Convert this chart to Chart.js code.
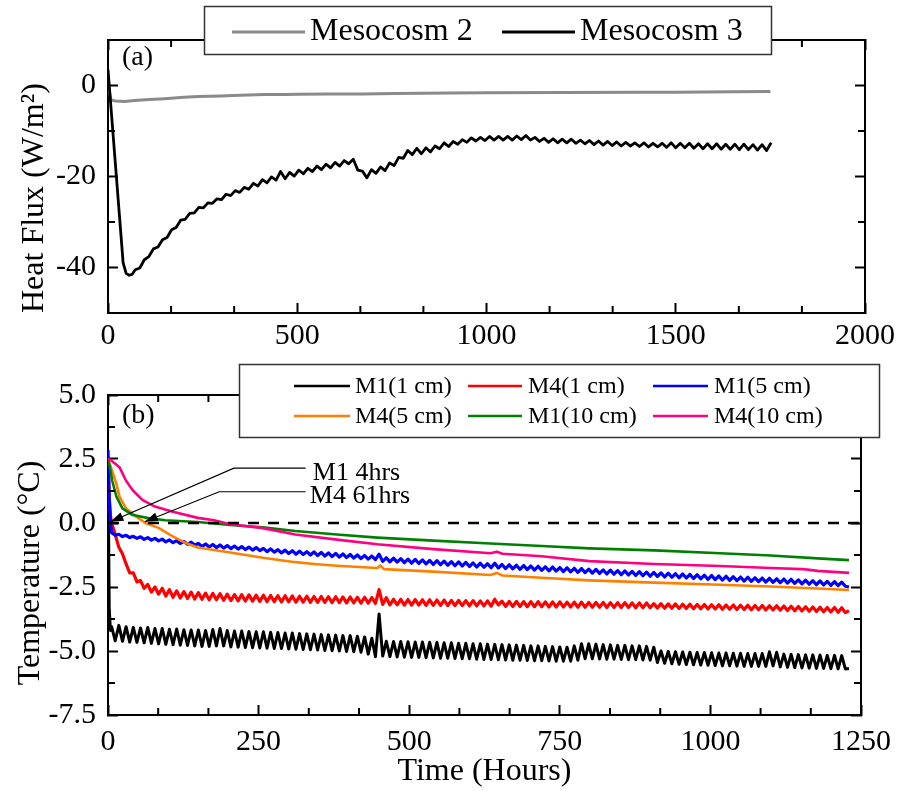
<!DOCTYPE html>
<html>
<head>
<meta charset="utf-8">
<script src="https://cdn.jsdelivr.net/npm/chart.js"></script>
<style>
  html, body { margin: 0; padding: 0; background: #fff; }
  #wrap { position: relative; width: 910px; height: 791px; }
  #fluxChart { position: absolute; left: 0; top: 0; }
  #tempChart { position: absolute; left: 0; top: 355px; }
</style>
</head>
<body>
<div id="wrap">
  <canvas id="fluxChart" width="910" height="355"></canvas>
  <canvas id="tempChart" width="910" height="436"></canvas>
</div>
<script>
const SERIF = "'Liberation Serif', 'Times New Roman', serif";

// ---------- (a) heat flux ----------
const fluxTicksX = [0, 500, 1000, 1500, 2000];
const fluxTicksY = [-40, -20, 0];
const fluxMinorX = [166.7, 333.3, 666.7, 833.3, 1166.7, 1333.3, 1666.7, 1833.3];
const fluxMinorY = [-30, -10];

const meso2Hours = [0, 8, 20, 44, 70, 109, 150, 200, 239, 300, 330, 413, 470, 500, 584, 670, 758, 900, 1000, 1200, 1400, 1500, 1650, 1750];
const meso2Flux = [0, -3.2, -3.4, -3.5, -3.3, -3.1, -2.9, -2.6, -2.4, -2.3, -2.2, -2.0, -2.0, -1.95, -1.85, -1.85, -1.75, -1.65, -1.6, -1.55, -1.5, -1.5, -1.4, -1.3];

const meso3Hours = [0, 40, 48, 56, 64,
  72, 84, 96, 108, 120, 132, 144, 156, 168, 180, 192, 204, 216, 228, 240, 252, 264, 276, 288, 300,
  312, 324, 336, 348, 360, 372, 384, 396, 408, 420, 432, 444, 456, 468, 480, 492, 504, 516, 528, 540,
  552, 564, 576, 588, 600, 612, 624, 636, 648, 660, 672, 684, 696, 708, 720, 732, 744, 756, 768, 780,
  792, 804, 816, 828, 840, 852, 864, 876, 888, 900, 912, 924, 936, 948, 960, 972, 984, 996, 1008, 1020,
  1032, 1044, 1056, 1068, 1080, 1092, 1104, 1116, 1128, 1140, 1152, 1164, 1176, 1188, 1200, 1212, 1224, 1236, 1248, 1260,
  1272, 1284, 1296, 1308, 1320, 1332, 1344, 1356, 1368, 1380, 1392, 1404, 1416, 1428, 1440, 1452, 1464, 1476, 1488, 1500,
  1512, 1524, 1536, 1548, 1560, 1572, 1584, 1596, 1608, 1620, 1632, 1644, 1656, 1668, 1680, 1692, 1704, 1716, 1728, 1740, 1752];
const meso3Flux = [3.5, -39.0, -41.3, -41.7, -41.5,
  -40.5, -40.1, -38.3, -37.6, -35.9, -35.5, -33.9, -33.4, -31.7, -31.2,
  -29.6, -29.4, -28.1, -28.0, -26.8, -26.9, -25.8, -25.9, -24.9, -25.1,
  -23.9, -24.2, -23.1, -23.5, -22.4, -22.8, -21.5, -22.1, -20.7, -21.4,
  -20.1, -20.8, -18.9, -20.5, -19.1, -19.9, -18.6, -19.4, -18.2, -18.9,
  -17.7, -18.5, -17.3, -18.1, -16.9, -17.7, -16.5, -17.2, -16.2, -18.6,
  -18.8, -20.3, -18.5, -19.3, -17.9, -18.7, -17.0, -17.6, -15.8, -16.0,
  -14.3, -15.2, -13.8, -15.0, -13.7, -14.6, -13.3, -13.9, -12.6, -13.4,
  -12.3, -12.9, -11.9, -12.5, -11.5, -12.2, -11.4, -12.1, -11.2, -12.0,
  -11.2, -12.0, -11.2, -12.0, -11.1, -11.9, -11.0, -12.0, -11.4, -12.3,
  -11.6, -12.5, -11.7, -12.6, -11.8, -12.6, -11.8, -12.7, -12.0, -12.8,
  -12.1, -13.0, -12.2, -13.1, -12.3, -13.2, -12.4, -13.3, -12.5, -13.3,
  -12.6, -13.4, -12.6, -13.5, -12.7, -13.5, -12.7, -13.6, -12.6, -13.7,
  -12.7, -13.7, -12.7, -13.8, -12.8, -13.9, -12.8, -13.9, -12.8, -14.0,
  -12.9, -14.0, -12.9, -14.1, -12.9, -14.1, -13.0, -14.2, -13.0, -14.3,
  -12.6];

// ---------- (b) temperature ----------
const tempTicksX = [0, 250, 500, 750, 1000, 1250];
const tempTicksY = [-7.5, -5, -2.5, 0, 2.5, 5];
const tempMinorX = [83.3, 166.7, 333.3, 416.7, 583.3, 666.7, 833.3, 916.7, 1083.3, 1166.7];
const tempMinorY = [3.75, 1.25, -1.25, -3.75, -6.25];

// sampling times of the logged (oscillating) series
const logHours = [0, 2, 4,
  6, 12, 18, 24, 30, 36, 42, 48, 54, 60, 66, 72, 78, 84, 90, 96, 102, 108, 114, 120,
  126, 132, 138, 144, 150, 156, 162, 168, 174, 180, 186, 192, 198, 204, 210, 216, 222, 228, 234, 240,
  246, 252, 258, 264, 270, 276, 282, 288, 294, 300, 306, 312, 318, 324, 330, 336, 342, 348, 354, 360,
  366, 372, 378, 384, 390, 396, 402, 408, 414, 420, 426, 432, 438, 444, 450, 456, 462, 468, 474, 480,
  486, 492, 498, 504, 510, 516, 522, 528, 534, 540, 546, 552, 558, 564, 570, 576, 582, 588, 594, 600,
  606, 612, 618, 624, 630, 636, 642, 648, 654, 660, 666, 672, 678, 684, 690, 696, 702, 708, 714, 720,
  726, 732, 738, 744, 750, 756, 762, 768, 774, 780, 786, 792, 798, 804, 810, 816, 822, 828, 834, 840,
  846, 852, 858, 864, 870, 876, 882, 888, 894, 900, 906, 912, 918, 924, 930, 936, 942, 948, 954, 960,
  966, 972, 978, 984, 990, 996, 1002, 1008, 1014, 1020, 1026, 1032, 1038, 1044, 1050, 1056, 1062, 1068, 1074, 1080,
  1086, 1092, 1098, 1104, 1110, 1116, 1122, 1128, 1134, 1140, 1146, 1152, 1158, 1164, 1170, 1176, 1182, 1188, 1194, 1200,
  1206, 1212, 1218, 1224, 1230];

const m1cm1 = [2.6, -3.3, -4.2,
  -4.05, -4.6, -4.0, -4.62, -4.05, -4.65, -4.08, -4.66, -4.1, -4.68,
  -4.08, -4.7, -4.12, -4.72, -4.12, -4.74, -4.15, -4.75, -4.14, -4.77,
  -4.17, -4.78, -4.18, -4.8, -4.18, -4.82, -4.2, -4.82, -4.16, -4.8,
  -4.12, -4.8, -4.2, -4.84, -4.22, -4.85, -4.22, -4.86, -4.24, -4.87,
  -4.25, -4.88, -4.25, -4.89, -4.27, -4.9, -4.28, -4.9, -4.3, -4.92,
  -4.3, -4.93, -4.32, -4.94, -4.33, -4.95, -4.34, -4.96, -4.36, -4.98,
  -4.37, -4.99, -4.38, -5.0, -4.4, -5.02, -4.4, -5.03, -4.42, -5.05,
  -4.45, -5.12, -4.5, -5.22, -3.55, -5.2, -4.62, -5.22, -4.63, -5.23,
  -4.63, -5.24, -4.64, -5.25, -4.65, -5.25, -4.65, -5.26, -4.66, -5.27,
  -4.66, -5.28, -4.68, -5.28, -4.68, -5.29, -4.7, -5.3, -4.7, -5.3,
  -4.72, -5.32, -4.72, -5.33, -4.73, -5.33, -4.74, -5.34, -4.75, -5.35,
  -4.76, -5.36, -4.77, -5.36, -4.78, -5.37, -4.8, -5.38, -4.8, -5.38,
  -4.82, -5.39, -4.83, -5.4, -4.84, -5.4, -4.85, -5.4, -4.8, -5.36,
  -4.72, -5.3, -4.72, -5.3, -4.73, -5.31, -4.75, -5.32, -4.76, -5.32,
  -4.78, -5.33, -4.78, -5.34, -4.8, -5.34, -4.8, -5.35, -4.82, -5.36,
  -4.85, -5.45, -5.0, -5.48, -5.02, -5.5, -5.03, -5.52, -5.04, -5.53,
  -5.05, -5.54, -5.06, -5.55, -5.06, -5.56, -5.07, -5.57, -5.08, -5.58,
  -5.08, -5.58, -5.09, -5.59, -5.09, -5.6, -5.1, -5.6, -5.1, -5.6,
  -5.1, -5.6, -5.03, -5.58, -5.05, -5.62, -5.12, -5.64, -5.13, -5.65,
  -5.14, -5.66, -5.15, -5.67, -5.15, -5.68, -5.16, -5.68, -5.17, -5.69,
  -5.17, -5.7, -5.18, -5.7, -5.68];

const m4cm1 = [2.5, 1.0, 0.3,
  0.0, -0.45, -0.95, -1.2, -1.6, -1.95, -1.95, -2.3, -2.25, -2.55,
  -2.4, -2.7, -2.5, -2.78, -2.55, -2.85, -2.6, -2.9, -2.65, -2.93,
  -2.68, -2.95, -2.7, -2.97, -2.72, -2.98, -2.74, -3.0, -2.75, -3.0,
  -2.76, -3.02, -2.78, -3.03, -2.8, -3.04, -2.8, -3.05, -2.81, -3.05,
  -2.82, -3.06, -2.82, -3.07, -2.83, -3.07, -2.84, -3.08, -2.84, -3.08,
  -2.85, -3.09, -2.86, -3.09, -2.86, -3.1, -2.87, -3.1, -2.87, -3.1,
  -2.88, -3.11, -2.88, -3.11, -2.89, -3.12, -2.89, -3.12, -2.9, -3.13,
  -2.9, -3.13, -2.91, -3.14, -2.6, -3.18, -2.92, -3.2, -2.98, -3.2,
  -2.98, -3.21, -2.99, -3.21, -2.99, -3.21, -3.0, -3.22, -3.0, -3.22,
  -3.01, -3.22, -3.01, -3.23, -3.02, -3.23, -3.02, -3.23, -3.03, -3.24,
  -3.03, -3.24, -3.04, -3.24, -3.04, -3.25, -2.98, -3.2, -3.05, -3.26,
  -3.06, -3.26, -3.06, -3.26, -3.07, -3.27, -3.07, -3.27, -3.07, -3.27,
  -3.08, -3.28, -3.08, -3.28, -3.08, -3.28, -3.09, -3.28, -3.09, -3.29,
  -3.09, -3.29, -3.1, -3.29, -3.1, -3.29, -3.1, -3.3, -3.11, -3.3,
  -3.11, -3.3, -3.11, -3.3, -3.12, -3.31, -3.12, -3.31, -3.12, -3.31,
  -3.15, -3.32, -3.15, -3.33, -3.16, -3.33, -3.16, -3.34, -3.17, -3.34,
  -3.17, -3.35, -3.18, -3.35, -3.18, -3.36, -3.19, -3.36, -3.19, -3.37,
  -3.2, -3.37, -3.2, -3.38, -3.21, -3.38, -3.21, -3.39, -3.22, -3.39,
  -3.22, -3.4, -3.23, -3.4, -3.23, -3.41, -3.24, -3.42, -3.25, -3.43,
  -3.26, -3.44, -3.27, -3.45, -3.28, -3.46, -3.29, -3.47, -3.3, -3.48,
  -3.3, -3.49, -3.31, -3.5, -3.42];

const m1cm5 = [2.85, 1.0, 0.0,
  -0.38, -0.48, -0.44, -0.53, -0.48, -0.57, -0.52, -0.6, -0.54, -0.64,
  -0.57, -0.67, -0.6, -0.7, -0.63, -0.74, -0.66, -0.77, -0.69, -0.8,
  -0.72, -0.83, -0.75, -0.87, -0.8, -0.92, -0.82, -0.94, -0.84, -0.96,
  -0.86, -0.98, -0.88, -1.0, -0.9, -1.02, -0.92, -1.04, -0.94, -1.06,
  -0.96, -1.08, -0.99, -1.12, -1.01, -1.14, -1.04, -1.17, -1.06, -1.19,
  -1.08, -1.22, -1.1, -1.23, -1.12, -1.25, -1.13, -1.27, -1.15, -1.29,
  -1.17, -1.31, -1.19, -1.33, -1.21, -1.35, -1.23, -1.37, -1.25, -1.39,
  -1.27, -1.41, -1.29, -1.43, -1.22, -1.5, -1.36, -1.52, -1.37, -1.53,
  -1.39, -1.55, -1.41, -1.57, -1.42, -1.58, -1.44, -1.6, -1.46, -1.62,
  -1.47, -1.63, -1.49, -1.65, -1.51, -1.67, -1.52, -1.68, -1.54, -1.7,
  -1.56, -1.72, -1.57, -1.73, -1.59, -1.75, -1.57, -1.76, -1.62, -1.78,
  -1.63, -1.79, -1.65, -1.81, -1.66, -1.82, -1.68, -1.84, -1.69, -1.85,
  -1.71, -1.87, -1.72, -1.88, -1.74, -1.9, -1.75, -1.91, -1.77, -1.93,
  -1.78, -1.94, -1.8, -1.96, -1.81, -1.97, -1.83, -1.99, -1.84, -2.0,
  -1.86, -2.02, -1.87, -2.03, -1.89, -2.05, -1.9, -2.06, -1.92, -2.08,
  -1.93, -2.09, -1.95, -2.11, -1.96, -2.12, -1.98, -2.14, -1.99, -2.15,
  -2.01, -2.17, -2.02, -2.18, -2.04, -2.2, -2.05, -2.21, -2.07, -2.23,
  -2.08, -2.24, -2.1, -2.25, -2.11, -2.27, -2.12, -2.28, -2.14, -2.29,
  -2.15, -2.31, -2.16, -2.32, -2.18, -2.33, -2.19, -2.35, -2.2, -2.36,
  -2.22, -2.38, -2.23, -2.39, -2.25, -2.41, -2.26, -2.42, -2.28, -2.44,
  -2.29, -2.45, -2.31, -2.47, -2.5];

// smoother probes, read at fewer times
const m1cm10Hours = [0, 3, 7, 14, 24, 41, 67, 95, 149, 203, 257, 311, 380, 447, 540, 635, 720, 799, 907, 1016, 1100, 1178, 1230];
const m1cm10 = [2.5, 2.2, 1.65, 1.03, 0.57, 0.31, 0.19, 0.11, 0.04, -0.08, -0.17, -0.31, -0.45, -0.57, -0.69, -0.8, -0.9, -0.99, -1.07, -1.18, -1.27, -1.38, -1.45];

const m4cm10Hours = [0, 5, 10, 19, 30, 41, 57, 78, 106, 149, 176, 203, 257, 311, 380, 447, 540, 635, 645, 655, 720, 799, 907, 1016, 1100, 1152, 1165, 1178, 1230];
const m4cm10 = [2.5, 2.45, 2.35, 2.18, 1.65, 1.28, 0.9, 0.64, 0.45, 0.2, 0.11, -0.05, -0.2, -0.45, -0.65, -0.83, -1.02, -1.18, -1.12, -1.2, -1.3, -1.49, -1.6, -1.68, -1.76, -1.8, -1.83, -1.87, -1.95];

const m4cm5Hours = [0, 7, 14, 19, 30, 46, 62, 84, 106, 127, 149, 203, 257, 311, 342, 380, 447, 452, 458, 540, 635, 645, 655, 720, 799, 907, 1016, 1100, 1178, 1230];
const m4cm5 = [2.5, 2.03, 1.53, 1.03, 0.57, 0.27, 0.0, -0.19, -0.5, -0.76, -0.96, -1.15, -1.36, -1.53, -1.6, -1.67, -1.76, -1.66, -1.8, -1.9, -2.03, -1.95, -2.05, -2.14, -2.24, -2.33, -2.41, -2.48, -2.56, -2.62];

const zeroHours = [0, 1250];
const zeroTemp = [0, 0];

const legendOrderB = ['M1(1 cm)', 'M4(1 cm)', 'M1(5 cm)', 'M4(5 cm)', 'M1(10 cm)', 'M4(10 cm)'];

function pairs(xs, ys) {
    return xs.map((x, i) => ({ x: x, y: ys[i] }));
}

function line(label, xs, ys, color, width, order) {
    return {
        label: label,
        data: pairs(xs, ys),
        borderColor: color,
        backgroundColor: color,
        borderWidth: width,
        borderJoinStyle: 'round',
        pointRadius: 0,
        tension: 0,
        fill: false,
        order: order
    };
}

// one frame axis; labels only on bottom/left
function makeAxis(position, min, max, majors, size, showLabels, pad, fmt) {
    const horizontal = position === 'top' || position === 'bottom';
    return {
        type: 'linear',
        position: position,
        min: min,
        max: max,
        afterBuildTicks: s => { s.ticks = majors.map(v => ({ value: v })); },
        afterFit: s => { if (horizontal) s.height = size; else s.width = size; },
        border: { display: true, color: '#000', width: 2 },
        grid: { display: true, drawOnChartArea: false, drawTicks: true, tickLength: -10, tickWidth: 2, color: '#000' },
        ticks: {
            display: showLabels,
            autoSkip: false,
            maxRotation: 0,
            padding: pad,
            color: '#000',
            font: { family: SERIF, size: 30 },
            callback: fmt
        }
    };
}

// short inside ticks between the labelled ones, on all four sides
const minorTicks = {
    id: 'minorTicks',
    afterDraw(chart, args, opts) {
        const { ctx, chartArea: a, scales } = chart;
        ctx.save();
        ctx.strokeStyle = '#000';
        ctx.lineWidth = 2;
        ctx.beginPath();
        opts.minorX.forEach(v => {
            const px = scales.x.getPixelForValue(v);
            ctx.moveTo(px, a.bottom); ctx.lineTo(px, a.bottom - 7);
            ctx.moveTo(px, a.top); ctx.lineTo(px, a.top + 7);
        });
        opts.minorY.forEach(v => {
            const py = scales.y.getPixelForValue(v);
            ctx.moveTo(a.left, py); ctx.lineTo(a.left + 7, py);
            ctx.moveTo(a.right, py); ctx.lineTo(a.right - 7, py);
        });
        ctx.stroke();
        ctx.restore();
    }
};

function verticalTitle(ctx, text, x, y, size) {
    ctx.save();
    ctx.translate(x, y);
    ctx.rotate(-Math.PI / 2);
    ctx.font = size + 'px ' + SERIF;
    ctx.fillStyle = '#000';
    ctx.textAlign = 'center';
    ctx.textBaseline = 'alphabetic';
    ctx.fillText(text, 0, 0);
    ctx.restore();
}

const fluxDecor = {
    id: 'fluxDecor',
    afterDraw(chart) {
        const ctx = chart.ctx;
        const ds = chart.data.datasets;
        ctx.save();
        // legend box sits over the top frame
        ctx.fillStyle = '#fff';
        ctx.fillRect(204, 6, 568, 49);
        ctx.strokeStyle = '#333';
        ctx.lineWidth = 1.5;
        ctx.strokeRect(204.5, 6.5, 567, 48);
        const items = [[ds[0], 232, 305, 310], [ds[1], 502, 575, 580]];
        ctx.font = '32px ' + SERIF;
        ctx.textBaseline = 'middle';
        ctx.textAlign = 'left';
        items.forEach(it => {
            ctx.strokeStyle = it[0].borderColor;
            ctx.lineWidth = 3;
            ctx.beginPath(); ctx.moveTo(it[1], 32); ctx.lineTo(it[2], 32); ctx.stroke();
            ctx.fillStyle = '#000';
            ctx.fillText(it[0].label, it[3], 32);
        });
        ctx.font = '28px ' + SERIF;
        ctx.fillText('(a)', 122, 58);
        ctx.restore();
        verticalTitle(ctx, 'Heat Flux (W/m\u00B2)', 43, 198, 32);
    }
};

const tempDecor = {
    id: 'tempDecor',
    afterDraw(chart) {
        const { ctx, scales } = chart;
        const px = v => scales.x.getPixelForValue(v);
        const py = v => scales.y.getPixelForValue(v);
        ctx.save();
        // legend
        ctx.fillStyle = '#fff';
        ctx.fillRect(239, 9, 641, 74);
        ctx.strokeStyle = '#333';
        ctx.lineWidth = 1.5;
        ctx.strokeRect(239.5, 9.5, 640, 73);
        const cols = [[294, 350, 355], [468, 522, 528], [653, 708, 714]];
        const rows = [31, 61];
        ctx.font = '24px ' + SERIF;
        ctx.textBaseline = 'middle';
        ctx.textAlign = 'left';
        legendOrderB.forEach((label, i) => {
            const ds = chart.data.datasets.find(d => d.label === label);
            const c = cols[i % 3];
            const yy = rows[Math.floor(i / 3)];
            ctx.strokeStyle = ds.borderColor;
            ctx.lineWidth = 2.5;
            ctx.beginPath(); ctx.moveTo(c[0], yy); ctx.lineTo(c[1], yy); ctx.stroke();
            ctx.fillStyle = '#000';
            ctx.fillText(label, c[2], yy + 1);
        });

        ctx.font = '28px ' + SERIF;
        ctx.fillText('(b)', 122, 61);

        // zero-crossing call-outs
        const callouts = [
            { text: 'M1 4hrs', at: [340, 1.95], path: [[328, 2.14], [209, 2.14], [4, 0.05]] },
            { text: 'M4 61hrs', at: [335, 1.03], path: [[328, 1.22], [184.5, 1.22], [61, 0.05]] }
        ];
        callouts.forEach(c => {
            const pts = c.path.map(p => [px(p[0]), py(p[1])]);
            ctx.strokeStyle = '#000';
            ctx.lineWidth = 1.2;
            ctx.beginPath();
            ctx.moveTo(pts[0][0], pts[0][1]);
            pts.slice(1).forEach(p => ctx.lineTo(p[0], p[1]));
            ctx.stroke();
            const tip = pts[pts.length - 1], from = pts[pts.length - 2];
            const ang = Math.atan2(tip[1] - from[1], tip[0] - from[0]);
            const len = 13, half = 4.5;
            ctx.fillStyle = '#000';
            ctx.beginPath();
            ctx.moveTo(tip[0], tip[1]);
            ctx.lineTo(tip[0] - len * Math.cos(ang) + half * Math.sin(ang), tip[1] - len * Math.sin(ang) - half * Math.cos(ang));
            ctx.lineTo(tip[0] - len * Math.cos(ang) - half * Math.sin(ang), tip[1] - len * Math.sin(ang) + half * Math.cos(ang));
            ctx.closePath();
            ctx.fill();
            ctx.font = '26px ' + SERIF;
            ctx.textBaseline = 'middle';
            ctx.fillText(c.text, px(c.at[0]), py(c.at[1]));
        });
        ctx.restore();
        verticalTitle(ctx, 'Temperature (\u00B0C)', 39, 218, 32);
    }
};

const intLabel = v => String(v);

new Chart(document.getElementById('fluxChart'), {
    type: 'line',
    data: {
        datasets: [
            line('Mesocosm 2', meso2Hours, meso2Flux, '#8a8a8a', 3, 1),
            line('Mesocosm 3', meso3Hours, meso3Flux, '#000000', 2.8, 0)
        ]
    },
    options: {
        responsive: false,
        animation: false,
        devicePixelRatio: 1,
        events: [],
        layout: { padding: { left: 0, right: 32, top: 38, bottom: 0 } },
        plugins: {
            legend: { display: false },
            tooltip: { enabled: false },
            minorTicks: { minorX: fluxMinorX, minorY: fluxMinorY }
        },
        scales: {
            x: makeAxis('bottom', 0, 2000, fluxTicksX, 42, true, 15, intLabel),
            y: makeAxis('left', -50, 10, fluxTicksY, 108, true, 22, intLabel),
            xTop: makeAxis('top', 0, 2000, fluxTicksX, 0, false, 0, intLabel),
            yRight: makeAxis('right', -50, 10, fluxTicksY, 0, false, 0, intLabel)
        }
    },
    plugins: [minorTicks, fluxDecor]
});

const tempX = makeAxis('bottom', 0, 1250, tempTicksX, 76, true, 19, intLabel);
tempX.title = { display: true, text: 'Time (Hours)', color: '#000', font: { family: SERIF, size: 32 }, padding: { top: 0, bottom: 0 } };

new Chart(document.getElementById('tempChart'), {
    type: 'line',
    data: {
        datasets: [
            line('zero', zeroHours, zeroTemp, '#000000', 2.5, 0),
            line('M4(10 cm)', m4cm10Hours, m4cm10, '#ff0080', 2.6, 1),
            line('M1(10 cm)', m1cm10Hours, m1cm10, '#008000', 2.6, 2),
            line('M4(5 cm)', m4cm5Hours, m4cm5, '#ff8000', 2.6, 3),
            line('M1(5 cm)', logHours, m1cm5, '#0000ff', 3.2, 4),
            line('M4(1 cm)', logHours, m4cm1, '#ff0000', 3.2, 5),
            line('M1(1 cm)', logHours, m1cm1, '#000000', 3, 6)
        ]
    },
    options: {
        responsive: false,
        animation: false,
        devicePixelRatio: 1,
        events: [],
        layout: { padding: { left: 0, right: 32, top: 33, bottom: 0 } },
        plugins: {
            legend: { display: false },
            tooltip: { enabled: false },
            minorTicks: { minorX: tempMinorX, minorY: tempMinorY }
        },
        scales: {
            x: tempX,
            y: makeAxis('left', -7.5, 5, tempTicksY, 108, true, 22, v => v.toFixed(1)),
            xTop: makeAxis('top', 0, 1250, tempTicksX, 0, false, 0, intLabel),
            yRight: makeAxis('right', -7.5, 5, tempTicksY, 0, false, 0, intLabel)
        }
    },
    plugins: [minorTicks, tempDecor]
});

// dashed zero reference line
(function () {
    const c = Chart.getChart('tempChart');
    c.data.datasets[0].borderDash = [11, 9];
    c.update();
})();
</script>
</body>
</html>
